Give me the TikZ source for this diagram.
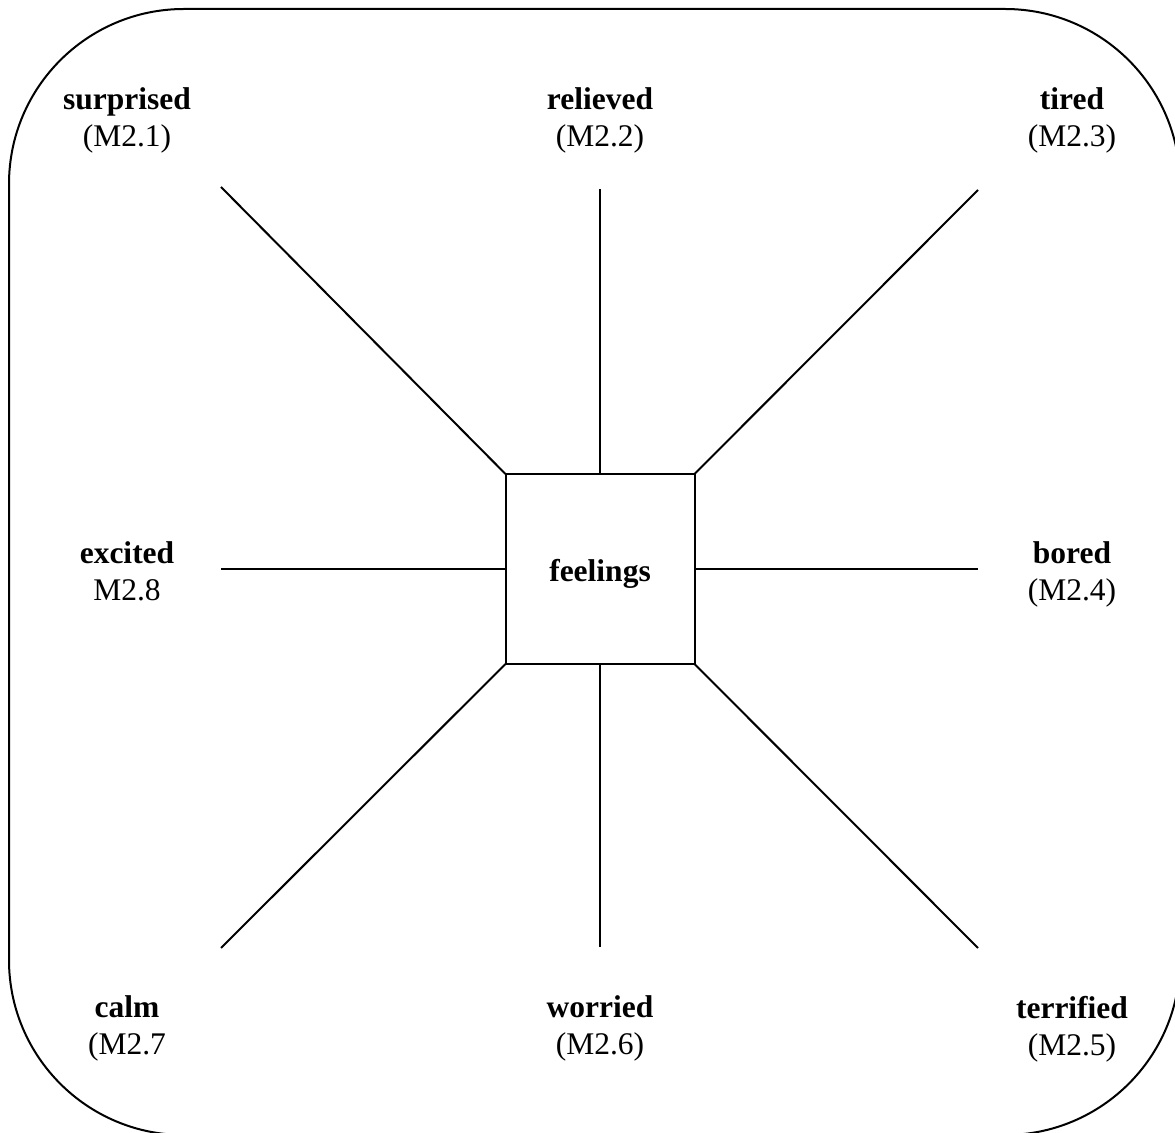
\documentclass[tikz,border=0pt]{standalone}
\usepackage{fontspec}
\setmainfont{Liberation Serif}
\begin{document}
\begin{tikzpicture}[x=0.5pt,y=-0.5pt,line width=1pt,
  lbl/.style={align=center,anchor=north,inner sep=0pt,font=\fontsize{15.75}{18.5}\selectfont},
  hubbox/.style={draw,minimum width=94.5pt,minimum height=95pt,inner sep=0pt,outer sep=0pt,font=\fontsize{15.75}{18.5}\selectfont\bfseries},
  spoke/.style={line width=1pt}]
\useasboundingbox (0,0) rectangle (1175,1133);
\clip (0,0) rectangle (1175,1133);
\draw[rounded corners=87.5pt] (9,9) rectangle (1180,1135);
\node[hubbox] (hub) at (600,569) {\raisebox{-2.5pt}[\height][\depth]{feelings}};
% labels
\node[lbl] (surprised) at (127,87) {\textbf{surprised}\\(M2.1)};
\node[lbl] (relieved) at (600,87) {\textbf{relieved}\\(M2.2)};
\node[lbl] (tired) at (1072,87) {\textbf{tired}\\(M2.3)};
\node[lbl] (excited) at (127,541) {\textbf{excited}\\M2.8};
\node[lbl] (bored) at (1072,541) {\textbf{bored}\\(M2.4)};
\node[lbl] (calm) at (127,995) {\textbf{calm}\\(M2.7};
\node[lbl] (worried) at (600,995) {\textbf{worried}\\(M2.6)};
\node[lbl] (terrified) at (1072,995) {\textbf{terrified}\\(M2.5)};
% spoke ends
\coordinate (eNW) at (221,187);
\coordinate (eN) at (600,189);
\coordinate (eNE) at (978,190);
\coordinate (eW) at (221,569);
\coordinate (eE) at (978,569);
\coordinate (eSW) at (221,948);
\coordinate (eS) at (600,947);
\coordinate (eSE) at (978,948);
\draw[spoke] (hub.north west) -- (eNW);
\draw[spoke] (hub.north) -- (eN);
\draw[spoke] (hub.north east) -- (eNE);
\draw[spoke] (hub.west) -- (eW);
\draw[spoke] (hub.east) -- (eE);
\draw[spoke] (hub.south west) -- (eSW);
\draw[spoke] (hub.south) -- (eS);
\draw[spoke] (hub.south east) -- (eSE);
\end{tikzpicture}
\end{document}
